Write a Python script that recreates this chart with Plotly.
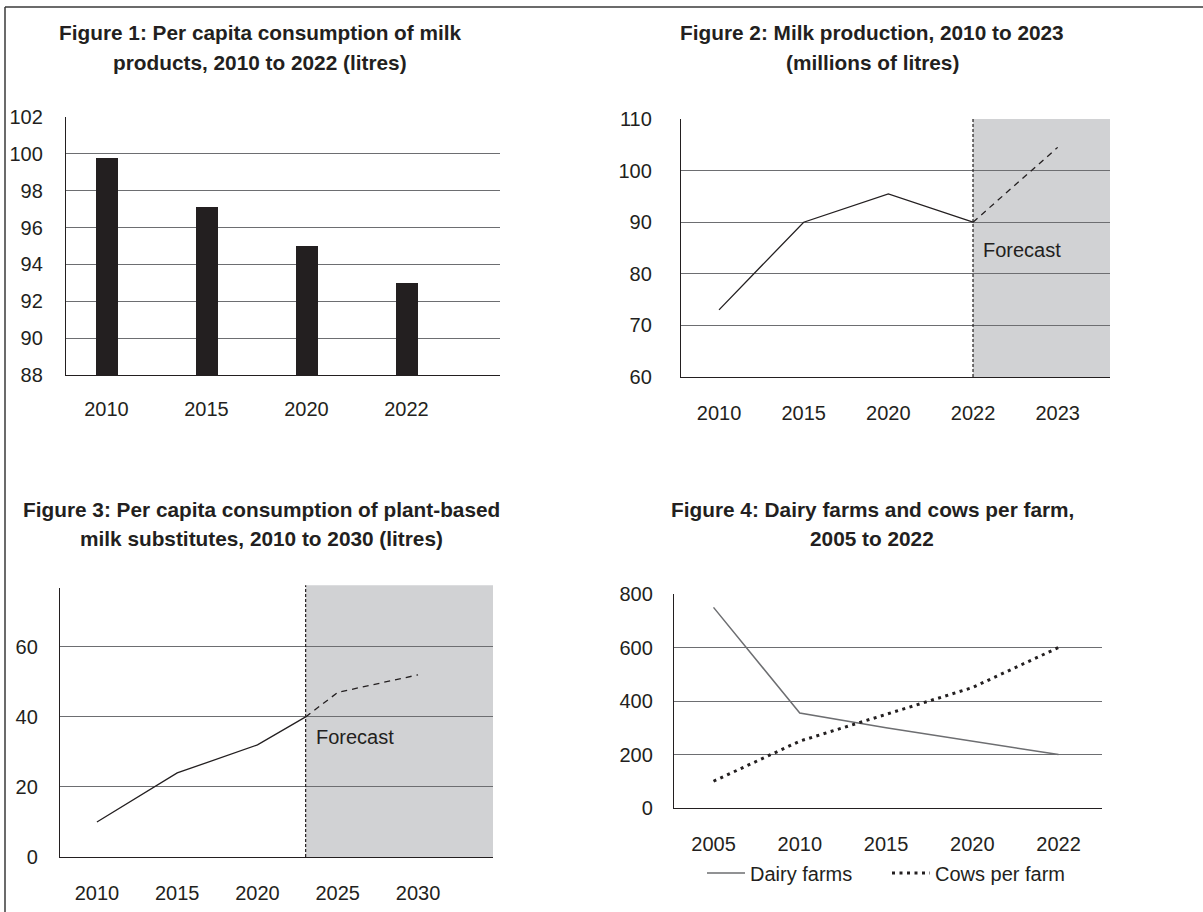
import plotly.graph_objects as go

W, H = 1203, 912

# ---------------- data ----------------
fig1_years = ["2010", "2015", "2020", "2022"]
fig1_values = [99.8, 97.1, 95.0, 93.0]

fig2_years = ["2010", "2015", "2020", "2022", "2023"]
fig2_actual = [73, 90, 95.5, 90]
fig2_forecast = [90, 104.5]

fig3_actual_years = [2010, 2015, 2020, 2023]
fig3_actual = [10, 24, 32, 40]
fig3_forecast_years = [2023, 2025, 2030]
fig3_forecast = [40, 47, 52]
fig3_ticks = [2010, 2015, 2020, 2025, 2030]

fig4_years = ["2005", "2010", "2015", "2020", "2022"]
fig4_farms = [750, 355, 300, 250, 200]
fig4_cows = [100, 250, 350, 450, 600]

# ---------------- styling ----------------
FONT = "Liberation Sans, Arial, sans-serif"
TXT = "#231f20"
GRID = "#6d6e71"
AXIS = "#231f20"
SHADE = "#d1d2d4"
TICK_SIZE = 20


def px_x(a, b):
    return [a / W, b / W]


def px_y(top, bottom):
    return [1 - bottom / H, 1 - top / H]


fig = go.Figure()

# Figure 1 bars
fig.add_trace(go.Bar(
    x=list(range(len(fig1_years))), y=fig1_values, width=0.22,
    marker=dict(color="#231f20", line=dict(width=0)),
    xaxis="x", yaxis="y", showlegend=False,
))

# Figure 2 lines
fig.add_trace(go.Scatter(
    x=list(range(len(fig2_actual))), y=fig2_actual, mode="lines",
    line=dict(color="#231f20", width=1.3),
    xaxis="x2", yaxis="y2", showlegend=False,
))
n_act2 = len(fig2_actual) - 1
fig.add_trace(go.Scatter(
    x=[n_act2 + i for i in range(len(fig2_forecast))], y=fig2_forecast, mode="lines",
    line=dict(color="#231f20", width=1.3, dash="6px,5px"),
    xaxis="x2", yaxis="y2", showlegend=False,
))

# Figure 3 lines
fig.add_trace(go.Scatter(
    x=fig3_actual_years, y=fig3_actual, mode="lines",
    line=dict(color="#231f20", width=1.3),
    xaxis="x3", yaxis="y3", showlegend=False,
))
fig.add_trace(go.Scatter(
    x=fig3_forecast_years, y=fig3_forecast, mode="lines",
    line=dict(color="#231f20", width=1.3, dash="6px,5px"),
    xaxis="x3", yaxis="y3", showlegend=False,
))

# Figure 4 lines
fig.add_trace(go.Scatter(
    x=list(range(len(fig4_years))), y=fig4_farms, mode="lines", name="Dairy farms",
    line=dict(color="#6d6e71", width=1.5),
    xaxis="x4", yaxis="y4", showlegend=True,
))
fig.add_trace(go.Scatter(
    x=list(range(len(fig4_years))), y=fig4_cows, mode="lines", name="Cows per farm",
    line=dict(color="#231f20", width=3, dash="3px,4.5px"),
    xaxis="x4", yaxis="y4", showlegend=True,
))


def xax(domain, rng, tickvals, ticktext, anchor, standoff):
    return dict(domain=domain, range=rng, tickvals=tickvals, ticktext=ticktext,
                anchor=anchor, showgrid=False, zeroline=False, showline=True,
                linecolor=AXIS, linewidth=1.3, ticks="", ticklabelstandoff=standoff,
                automargin=False,
                tickfont=dict(family=FONT, size=TICK_SIZE, color=TXT), fixedrange=True)


def yax(domain, rng, dtick, anchor, standoff):
    return dict(domain=domain, range=rng, dtick=dtick, tick0=0, anchor=anchor,
                showgrid=True, gridcolor=GRID, gridwidth=1.2, zeroline=False,
                showline=True, linecolor=AXIS, linewidth=1.3, ticks="",
                ticklabelstandoff=standoff, automargin=False,
                tickfont=dict(family=FONT, size=TICK_SIZE, color=TXT), fixedrange=True)


fig2_range = [-0.449, 4.618]
fig3_range = [2007.7, 2034.67]

layout = dict(
    width=W, height=H, margin=dict(l=0, r=0, t=0, b=0, pad=0, autoexpand=False),
    paper_bgcolor="white", plot_bgcolor="rgba(0,0,0,0)",
    font=dict(family=FONT, color=TXT),
    xaxis=xax(px_x(66, 500), [-0.405, 3.935], list(range(len(fig1_years))), fig1_years, "y", 16),
    yaxis=yax(px_y(117, 375), [88, 102], 2, "x", 18),
    xaxis2=xax(px_x(681, 1110), fig2_range, list(range(len(fig2_years))), fig2_years, "y2", 18),
    yaxis2=yax(px_y(119, 377), [60, 110], 10, "x2", 24),
    xaxis3=xax(px_x(60, 493), fig3_range, fig3_ticks, [str(t) for t in fig3_ticks], "y3", 18),
    yaxis3=yax(px_y(588, 857), [0, 76.8], 20, "x3", 17),
    xaxis4=xax(px_x(674, 1102), [-0.458, 4.504], list(range(len(fig4_years))), fig4_years, "y4", 18),
    yaxis4=yax(px_y(594, 808), [0, 800], 200, "x4", 16),
    legend=dict(orientation="h", x=702 / W, xanchor="left", y=1 - 873 / H, yanchor="middle",
                entrywidth=132, entrywidthmode="pixels", itemwidth=38,
                font=dict(family=FONT, size=TICK_SIZE, color=TXT), bgcolor="rgba(0,0,0,0)"),
    bargap=0,
)
fig.update_layout(**layout)

shapes = []
# forecast shading + divider, figure 2
shapes.append(dict(type="rect", xref="x2", yref="y2 domain", x0=n_act2, x1=fig2_range[1],
                   y0=0, y1=1, fillcolor=SHADE, line=dict(width=0), layer="below"))
shapes.append(dict(type="line", xref="x2", yref="y2 domain", x0=n_act2, x1=n_act2,
                   y0=0, y1=1, line=dict(color="#231f20", width=1.2, dash="3px,2px"), layer="above"))
# figure 3
div3 = fig3_forecast_years[0]
shapes.append(dict(type="rect", xref="x3", yref="y3 domain", x0=div3, x1=fig3_range[1],
                   y0=0, y1=1.01, fillcolor=SHADE, line=dict(width=0), layer="below"))
shapes.append(dict(type="line", xref="x3", yref="y3 domain", x0=div3, x1=div3,
                   y0=0, y1=1.01, line=dict(color="#231f20", width=1.2, dash="3px,2px"), layer="above"))
# outer frame (top and left edges)
shapes.append(dict(type="line", xref="paper", yref="paper", x0=5 / W, x1=1, y0=1 - 7 / H, y1=1 - 7 / H,
                   line=dict(color="#3a3a3a", width=1.5)))
shapes.append(dict(type="line", xref="paper", yref="paper", x0=5 / W, x1=5 / W, y0=0, y1=1 - 7 / H,
                   line=dict(color="#3a3a3a", width=1.5)))
fig.update_layout(shapes=shapes)

annotations = []
TITLE = dict(family=FONT, size=20.8, color=TXT)


def title(lines, cx, ys):
    for line, y in zip(lines, ys):
        annotations.append(dict(text="<b>" + line + "</b>", xref="paper", yref="paper",
                                x=cx / W, y=1 - y / H, xanchor="center", yanchor="middle",
                                showarrow=False, font=TITLE))


title(["Figure 1: Per capita consumption of milk", "products, 2010 to 2022 (litres)"], 260, [32, 62])
title(["Figure 2: Milk production, 2010 to 2023", "(millions of litres)"], 872, [32, 62])
title(["Figure 3: Per capita consumption of plant-based", "milk substitutes, 2010 to 2030 (litres)"], 261, [509, 538])
title(["Figure 4: Dairy farms and cows per farm,", "2005 to 2022"], 872, [509, 538])

annotations.append(dict(text="Forecast", xref="x2", yref="y2", x=3.1, y=84.6,
                        xanchor="left", yanchor="middle", showarrow=False,
                        font=dict(family=FONT, size=20, color=TXT)))
annotations.append(dict(text="Forecast", xref="x3", yref="y3", x=2023.5, y=34.3,
                        xanchor="left", yanchor="middle", showarrow=False,
                        font=dict(family=FONT, size=20, color=TXT)))
fig.update_layout(annotations=annotations)

fig.write_html("out.html")
